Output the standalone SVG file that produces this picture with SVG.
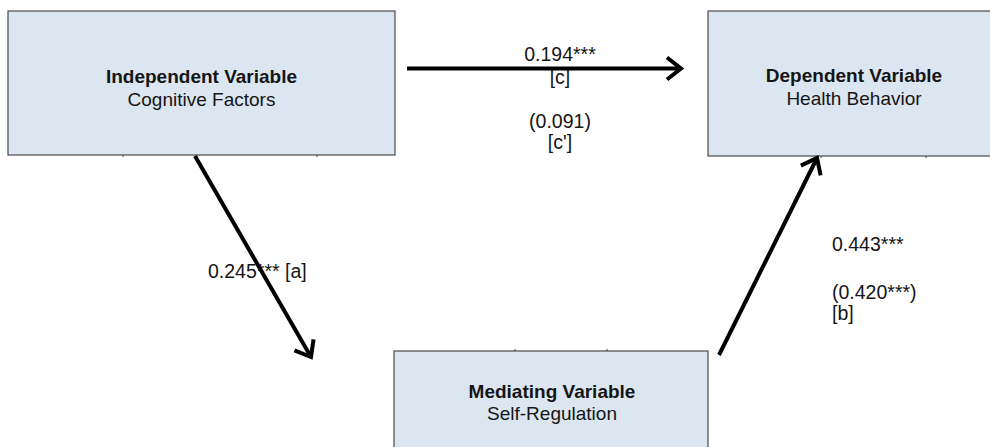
<svg xmlns="http://www.w3.org/2000/svg" width="990" height="447" viewBox="0 0 990 447">
<defs>
<style>
.box{fill:#dce6f0;stroke:#4a4a4a;stroke-width:1.2}
.tick{stroke:#4a4a4a;stroke-width:1}
text{font-family:"Liberation Sans",Arial,sans-serif;font-size:19px;fill:#151515}
.t{font-weight:bold;text-anchor:middle}
.s{text-anchor:middle}
.lab{font-size:19.5px}
.conn{stroke:#000;stroke-width:4;fill:none;marker-end:url(#arr)}
</style>
<marker id="arr" markerUnits="userSpaceOnUse" markerWidth="40" markerHeight="40" viewBox="-20 -20 40 40" refX="0" refY="0" orient="auto">
<path d="M-14,-11 L0,0 L-14,11" fill="none" stroke="#000" stroke-width="4" stroke-linejoin="miter"/>
</marker>
</defs>
<rect width="990" height="447" fill="#fff"/>
<g id="independent">
<rect class="box" x="8" y="11" width="387" height="144"/>
<line class="tick" x1="123" y1="155" x2="123" y2="157"/>
<line class="tick" x1="317" y1="155" x2="317" y2="157"/>
<text class="t" x="201.5" y="83">Independent Variable</text>
<text class="s" x="201.5" y="106">Cognitive Factors</text>
</g>
<g id="dependent">
<rect class="box" x="708" y="11" width="300" height="145"/>
<line class="tick" x1="821" y1="156" x2="821" y2="158"/>
<line class="tick" x1="926" y1="156" x2="926" y2="158"/>
<text class="t" x="854" y="82">Dependent Variable</text>
<text class="s" x="854" y="105">Health Behavior</text>
</g>
<g id="mediating">
<rect class="box" x="394" y="351" width="314" height="110"/>
<line class="tick" x1="515" y1="349" x2="515" y2="351"/>
<line class="tick" x1="607" y1="349" x2="607" y2="351"/>
<text class="t" x="552" y="398">Mediating Variable</text>
<text class="s" x="552" y="420">Self-Regulation</text>
</g>
<g id="labels">
<text class="lab" x="208" y="278">0.245*** [a]</text>
<text class="lab s" x="560" y="61">0.194***</text>
<text class="lab s" x="560" y="84">[c]</text>
<text class="lab s" x="560" y="128">(0.091)</text>
<text class="lab s" x="560" y="149">[c']</text>
<text class="lab" x="832" y="251">0.443***</text>
<text class="lab" x="832" y="299">(0.420***)</text>
<text class="lab" x="832" y="320">[b]</text>
</g>
<g id="connectors">
<line class="conn" x1="407" y1="68.5" x2="681" y2="68.5"/>
<line class="conn" x1="195" y1="156" x2="311" y2="357"/>
<line class="conn" x1="719" y1="355" x2="817" y2="158"/>
</g>
</svg>
